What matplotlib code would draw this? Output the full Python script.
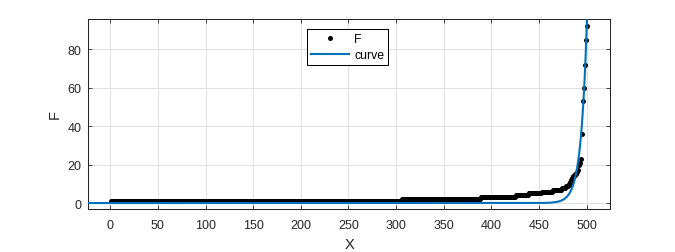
import numpy as np
import matplotlib
matplotlib.use("Agg")
import matplotlib.pyplot as plt

plt.rcParams['font.family'] = ['Liberation Sans', 'DejaVu Sans']

# --- data ---
# step runs of F (value, count) for x = 1 .. 482
run_values = [1, 2, 3, 4, 5, 6, 7, 8, 9, 10]
run_counts = [305, 83, 37, 13, 14, 12, 9, 4, 3, 2]
# individual tail values for x = 483 .. 500
tail_values = [11, 12, 13, 14, 14, 15, 15, 16, 17, 20, 21, 23, 36, 53, 60, 72, 85, 92]

F = np.concatenate([np.repeat(run_values, run_counts), tail_values])
X = np.arange(1, len(F) + 1)

# fitted curve parameters: y = A * exp(b * (x - x_ref))
curve_A = 91.0
curve_b = 0.16
curve_xref = 500.0
curve_xmin, curve_xmax = -23.0, 502.0

xticks = [0, 50, 100, 150, 200, 250, 300, 350, 400, 450, 500]
yticks = [0, 20, 40, 60, 80]

# --- figure ---
fig = plt.figure(figsize=(6.75, 2.53), dpi=100)
ax = fig.add_axes([88.3 / 675, 43 / 253, (610 - 88.3) / 675, (210 - 19.7) / 253])

cx = np.linspace(curve_xmin, curve_xmax, 2000)
cy = curve_A * np.exp(curve_b * (cx - curve_xref))

ax.plot(X, F, linestyle='none', marker='o', markersize=3.6, color='black',
        markeredgewidth=0, label='F', zorder=3)
ax.plot(cx, cy, color='#0072BD', linewidth=1.5, label='curve', zorder=4)

ax.set_xlim(-23, 524.5)
ax.set_ylim(-3.1, 96)
ax.set_xticks(xticks)
ax.set_yticks(yticks)

ax.grid(True, color='#dcdcdc', linewidth=0.6)
ax.set_axisbelow(True)
ax.tick_params(direction='in', length=3, width=0.6, top=True, right=True,
               labelsize=9, labelcolor='#262626', color='#262626')
ax.tick_params(axis='x', pad=7.5)
ax.tick_params(axis='y', pad=5)
for s in ax.spines.values():
    s.set_linewidth(0.75)
    s.set_color('#262626')

ax.set_xlabel('X', fontsize=10.5, color='#262626', labelpad=4)
ax.set_ylabel('F', fontsize=10.5, color='#262626', labelpad=4)

leg = ax.legend(loc='upper left', bbox_to_anchor=(0.42, 0.946), borderaxespad=0,
                fontsize=8.8, fancybox=False, framealpha=1, edgecolor='black',
                handlelength=3.1, handletextpad=0.4, labelspacing=0.35,
                borderpad=0.33, markerscale=1.0)
leg.get_frame().set_linewidth(0.75)

fig.savefig('out.png', dpi=100)
